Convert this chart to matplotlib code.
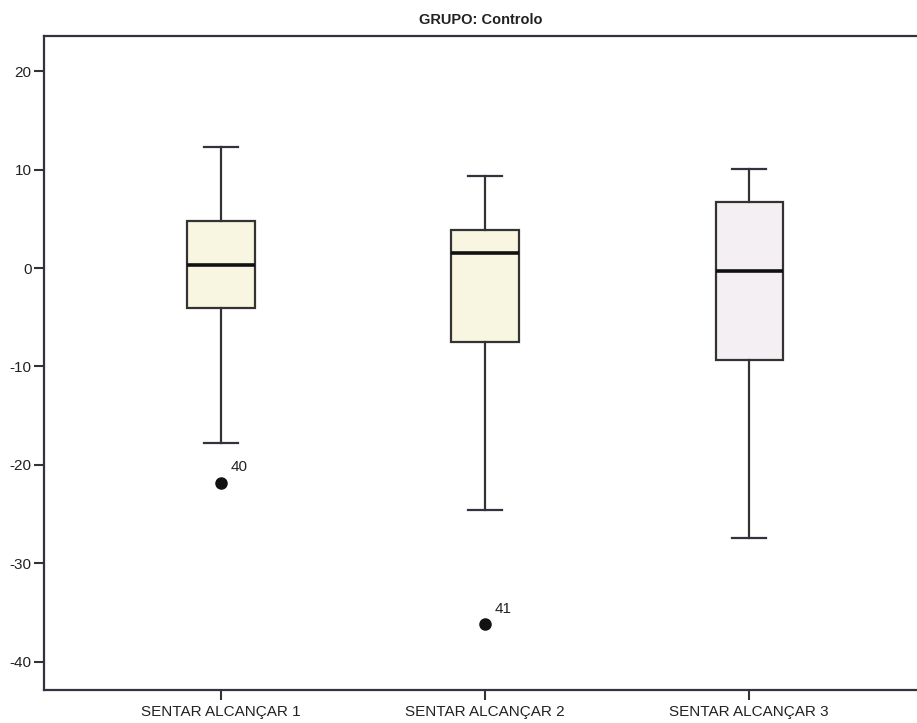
import matplotlib
matplotlib.use("Agg")
import matplotlib.pyplot as plt

# Resumo dos boxplots (grupo Controlo)
categorias = ["SENTAR ALCANÇAR 1", "SENTAR ALCANÇAR 2", "SENTAR ALCANÇAR 3"]
whisker_min = [-17.8, -24.6, -27.4]
q1 = [-4.1, -7.5, -9.3]
mediana = [0.3, 1.5, -0.3]
q3 = [4.8, 3.9, 6.7]
whisker_max = [12.3, 9.4, 10.1]
outliers = [[-21.8], [-36.2], []]
outlier_ids = [["40"], ["41"], []]
cores = ["#f8f6e0", "#f8f6e0", "#f4eff3"]

plt.rcParams["font.family"] = ["Liberation Sans", "DejaVu Sans"]
plt.rcParams["axes.unicode_minus"] = False

fig = plt.figure(figsize=(9.17, 7.23), dpi=100)
ax = fig.add_axes([0.048, 0.0456, 0.952, 0.904])

stats = []
for i in range(len(categorias)):
    stats.append({
        "whislo": whisker_min[i], "q1": q1[i], "med": mediana[i],
        "q3": q3[i], "whishi": whisker_max[i], "fliers": outliers[i],
    })

pos = [1, 2, 3]
bp = ax.bxp(stats, positions=pos, widths=0.255, patch_artist=True,
            showfliers=True,
            boxprops=dict(edgecolor="#333333", linewidth=1.6),
            medianprops=dict(color="#111111", linewidth=2.6),
            whiskerprops=dict(color="#333333", linewidth=1.6),
            capprops=dict(color="#333340", linewidth=1.6),
            flierprops=dict(marker="o", markerfacecolor="#111111",
                            markeredgecolor="#111111", markersize=8))
for patch, c in zip(bp["boxes"], cores):
    patch.set_facecolor(c)
for cap in bp["caps"]:
    x0, x1 = cap.get_xdata()
    m = (x0 + x1) / 2
    cap.set_xdata([m - 0.065, m + 0.065])

# rótulos dos casos extremos
for p, vals, ids in zip(pos, outliers, outlier_ids):
    for v, lab in zip(vals, ids):
        ax.annotate(lab, (p, v), xytext=(7, 8), textcoords="offset points",
                    fontsize=11, color="#222222")

ax.set_xlim(0.33, 3.635)
ax.set_ylim(-42.9, 23.56)
ax.set_yticks([20, 10, 0, -10, -20, -30, -40])
ax.set_xticks(pos)
ax.set_xticklabels(categorias)
ax.tick_params(axis="both", direction="out", length=7, width=1.5,
               color="#333333", labelsize=11, labelcolor="#222222")
ax.tick_params(axis="y", pad=2)
for s in ["left", "bottom", "top"]:
    ax.spines[s].set_linewidth(1.6)
    ax.spines[s].set_color("#333340")
ax.spines["right"].set_visible(False)

ax.set_title("GRUPO: Controlo", fontsize=10.5, fontweight="bold",
             color="#222222", pad=9)

fig.savefig("out.png", dpi=100)
